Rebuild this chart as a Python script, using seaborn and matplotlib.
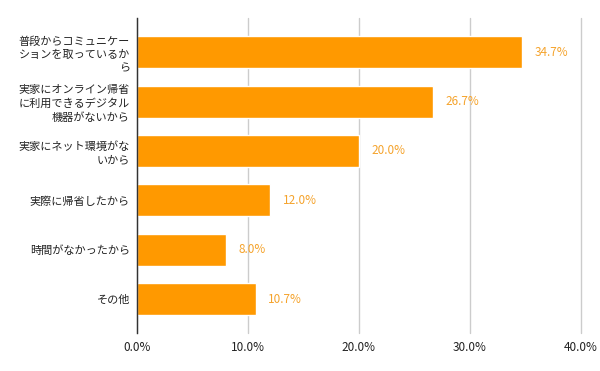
import matplotlib
matplotlib.use('Agg')
import matplotlib.pyplot as plt
import pandas as pd
import seaborn as sns

reasons = ['普段からコミュニケー\nションを取っているか\nら',
           '実家にオンライン帰省\nに利用できるデジタル\n機器がないから',
           '実家にネット環境がな\nいから',
           '実際に帰省したから',
           '時間がなかったから',
           'その他']
shares = [34.7, 26.7, 20.0, 12.0, 8.0, 10.7]
xticks = [0, 10, 20, 30, 40]

sns.set_style('white')
plt.rcParams['font.family'] = ['Noto Sans CJK JP', 'DejaVu Sans']

df = pd.DataFrame({'reason': reasons, 'share': shares})

fig = plt.figure(figsize=(6, 3.71), dpi=100)
ax = fig.add_axes([0.228, 0.102, 0.74, 0.849])
sns.barplot(data=df, x='share', y='reason', orient='h', color='#ff9900',
            saturation=1, width=0.65, ax=ax, zorder=3)

for c in ax.containers:
    ax.bar_label(c, labels=['%.1f%%' % v for v in shares], padding=9,
                 color='#f5a32c', fontsize=8.5)

ax.set_xlim(0, 40)
ax.set_ylim(5.69, -0.69)
ax.set_xticks(xticks)
ax.set_xticklabels(['%.1f%%' % t for t in xticks], fontsize=8.5, color='#222222')
ax.tick_params(axis='y', labelsize=8, length=0, pad=5, labelcolor='#222222')
ax.tick_params(axis='x', length=0, pad=6)
ax.set_xlabel('')
ax.set_ylabel('')
for lbl in ax.get_yticklabels():
    lbl.set_horizontalalignment('right')
    lbl.set_multialignment('right')
    lbl.set_linespacing(1.35)
ax.xaxis.grid(True, color='#cccccc', linewidth=1, zorder=0)
for gl in ax.get_xgridlines():
    gl.set_clip_on(False)
for s in ['top', 'right', 'bottom']:
    ax.spines[s].set_visible(False)
ax.spines['left'].set_color('#333333')
ax.spines['left'].set_linewidth(1)
ax.spines['left'].set_zorder(4)

plt.savefig('out.png', dpi=100)
